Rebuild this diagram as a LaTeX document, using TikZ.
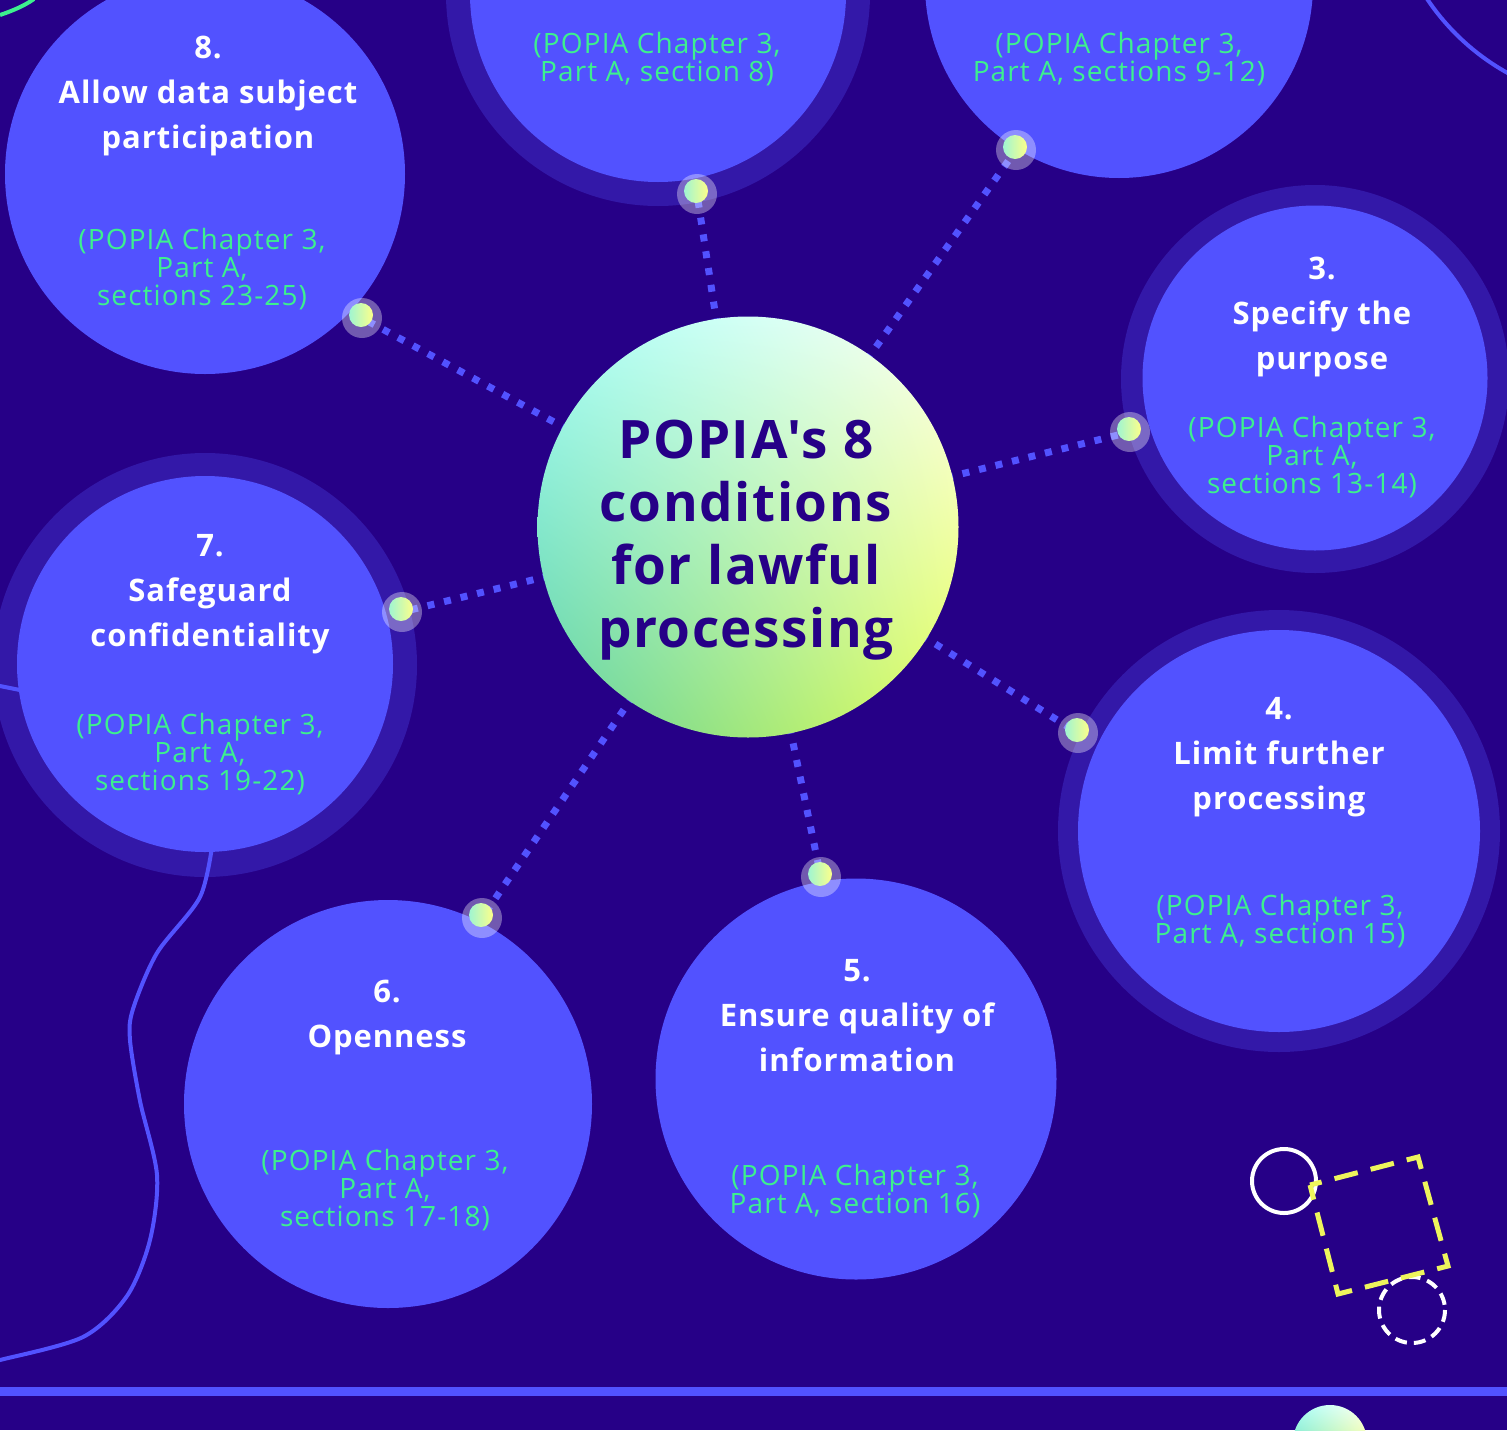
\documentclass[tikz,border=0pt]{standalone}
\usepackage{fontspec}
\setmainfont{Open Sans}
\newfontfamily\headfont{Open Sans}[LetterSpace=3]
\newfontfamily\notefont{Open Sans}[LetterSpace=4]
\usetikzlibrary{shadings}
\definecolor{night}{HTML}{260087}
\definecolor{blu}{HTML}{5252FF}
\definecolor{ringc}{HTML}{3318A8}
\definecolor{mint}{HTML}{3DF08E}
\definecolor{sun}{HTML}{EEF55C}
\definecolor{hubA}{HTML}{A8FFF8}
\definecolor{hubB}{HTML}{FFFFF2}
\definecolor{hubC}{HTML}{5FD0A0}
\definecolor{hubD}{HTML}{E4FF58}
\definecolor{beadl}{HTML}{9FF5D2}
\definecolor{beadr}{HTML}{FCFF8A}
\tikzset{
  bub/.style={circle,fill=blu,inner sep=0pt},
  hd/.style={anchor=north,inner sep=0pt,align=center,text=white,font=\headfont\fontsize{31}{45}\selectfont\bfseries},
  nt/.style={anchor=north,inner sep=0pt,align=center,text=mint,font=\notefont\fontsize{28}{28}\selectfont},
  lnk/.style={draw=blu,line width=7pt,dash pattern=on 7pt off 10pt},
  wire/.style={draw=blu,line width=4pt},
  glow/.style={circle,fill=white,fill opacity=0.35,minimum size=40pt,inner sep=0pt},
  bead/.style={circle,minimum size=24pt,inner sep=0pt,left color=beadl,right color=beadr},
  core/.style={circle,inner sep=0pt,upper left=hubA,upper right=hubB,lower left=hubC,lower right=hubD}}

\begin{document}
\begin{tikzpicture}[x=1pt,y=-1pt]
\useasboundingbox (0,0) rectangle (1507,1430);
\clip (0,0) rectangle (1507,1430);
\fill[night] (0,0) rectangle (1507,1430);

% loose outlines at the edges
\draw[wire] (1620,-130) circle[radius=232];
\draw[wire,draw=mint] (0,15) .. controls (12,11) and (24,6) .. (34,-1);

% halos behind some of the bubbles
\foreach \x/\y/\r in {658/-6/212, 1315/379/194, 1279/831/221, 205/665/212}
  \fill[ringc] (\x,\y) circle[radius=\r];

\draw[wire] plot[smooth] coordinates {(213,840) (200,897) (157,953) (133,1009) (130,1040) (140,1101) (157,1175) (150,1240) (127,1296) (83,1337) (0,1360) (-20,1364)};
\draw[wire] (-10,684) -- (30,692);

% the eight conditions
\node[bub,minimum size=376pt] (c1) at (658,-6) {};
\node[bub,minimum size=388pt] (c2) at (1119,-16) {};
\node[bub,minimum size=345pt] (c3) at (1315,378) {};
\node[bub,minimum size=402pt] (c4) at (1279,831) {};
\node[bub,minimum size=401pt] (c5) at (856,1079) {};
\node[bub,minimum size=408pt] (c6) at (388,1104) {};
\node[bub,minimum size=376pt] (c7) at (205,664) {};
\node[bub,minimum size=400pt] (c8) at (205,174) {};

\node[hd] (h3) at (1322,257) {3.\\Specify the\\purpose};
\node[hd] (h4) at (1279,697) {4.\\Limit further\\processing};
\node[hd] (h5) at (857,959) {5.\\Ensure quality of\\information};
\node[hd] (h6) at (387,980) {6.\\Openness};
\node[hd] (h7) at (210,534) {7.\\Safeguard\\confidentiality};
\node[hd] (h8) at (208,36) {8.\\Allow data subject\\participation};

\node[nt] (n1) at (657,32) {(POPIA Chapter 3,\\Part A, section 8)};
\node[nt] (n2) at (1119,32) {(POPIA Chapter 3,\\Part A, sections 9-12)};
\node[nt] (n3) at (1312,416) {(POPIA Chapter 3,\\Part A,\\sections 13-14)};
\node[nt] (n4) at (1280,894) {(POPIA Chapter 3,\\Part A, section 15)};
\node[nt] (n5) at (855,1164) {(POPIA Chapter 3,\\Part A, section 16)};
\node[nt] (n6) at (385,1149) {(POPIA Chapter 3,\\Part A,\\sections 17-18)};
\node[nt] (n7) at (200,713) {(POPIA Chapter 3,\\Part A,\\sections 19-22)};
\node[nt] (n8) at (202,228) {(POPIA Chapter 3,\\Part A,\\sections 23-25)};

% dotted spokes out of the hub
\coordinate (hub) at (748,527);
\foreach \x/\y [count=\i] in {697/194, 1016/150, 1130/432, 1078/733, 821/877, 482/918, 402/612, 362/318}
  \coordinate (p\i) at (\x,\y);
\foreach \i in {1,...,8}
  \draw[lnk] (hub) -- (p\i);
\foreach \i in {1,...,8} {
  \node[glow] (g\i) at (p\i) {};
  \node[bead] (b\i) at ([shift={(-1,-3)}]p\i) {};
}

\node[core,minimum size=421pt] (core) at (hub) {};
\node[anchor=north,inner sep=0pt,align=center,text=night,font=\headfont\fontsize{53}{63}\selectfont\bfseries] (title) at (746,420) {POPIA\textquotesingle s 8\\conditions\\for lawful\\processing};

% shapes in the lower right corner
\draw[white,line width=4pt] (1284,1181) circle[radius=32];
\draw[white,line width=4pt,dash pattern=on 12pt off 7pt] (1412,1310) circle[radius=33];
\draw[sun,line width=5pt,dash pattern=on 24pt off 13.3pt,dash phase=12pt] (1310,1185) -- (1418,1157) -- (1448,1266) -- (1338,1294) -- cycle;

% footer rule
\fill[blu] (0,1387) rectangle (1507,1396);
\node[core,minimum size=74pt] (peek) at (1330,1442) {};
\end{tikzpicture}
\end{document}
